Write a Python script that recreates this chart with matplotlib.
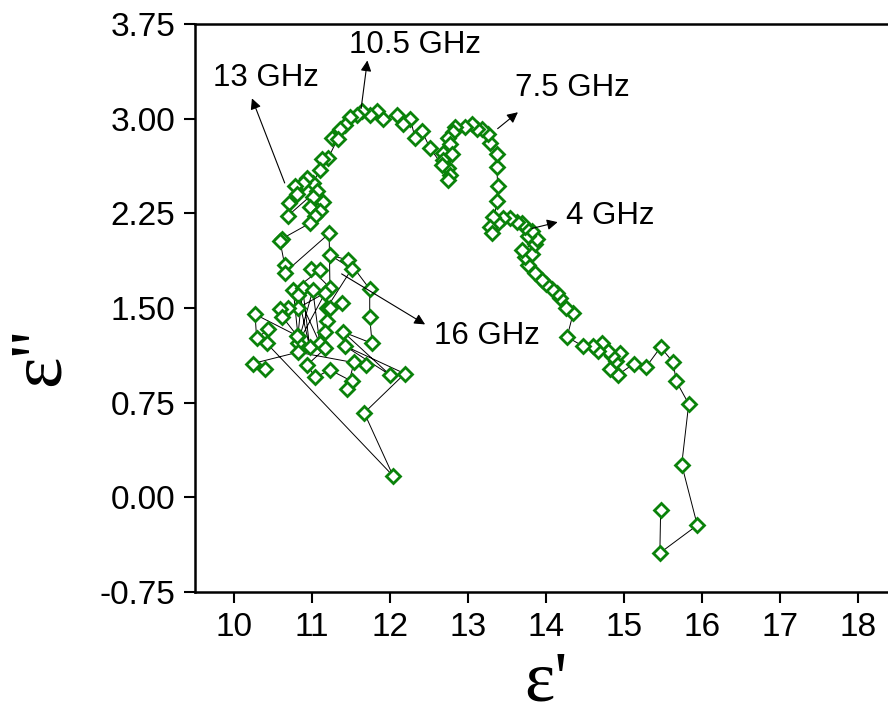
import matplotlib.pyplot as plt

plt.rcParams['font.family'] = ['Liberation Sans', 'DejaVu Sans']

# ---- data: Cole-Cole plot (eps' vs eps'') ----
eps_real = [
    15.47, 15.46, 15.94, 15.74, 15.83, 15.67, 15.63, 15.47, 15.28, 15.13,
    14.92, 14.82, 14.90, 14.95, 14.85, 14.80, 14.72, 14.67, 14.60, 14.47,
    14.27, 14.35, 14.26, 14.18, 14.14, 14.08, 14.00, 13.95, 13.86, 13.77,
    13.73, 13.82, 13.69, 13.86, 13.88, 13.77, 13.82, 13.73, 13.69, 13.63,
    13.54, 13.45, 13.38, 13.32, 13.28, 13.31, 13.37, 13.38, 13.37, 13.37,
    13.28, 13.26, 13.18, 13.12, 13.05, 12.96, 12.83, 12.81, 12.74, 12.77,
    12.68, 12.79, 12.68, 12.74, 12.77, 12.74, 12.67, 12.51, 12.41, 12.32,
    12.26, 12.17, 12.09, 11.91, 11.83, 11.74, 11.64, 11.58, 11.49, 11.42,
    11.36, 11.26, 11.33, 11.21, 11.13, 11.10, 11.01, 10.94, 10.88, 10.78,
    10.81, 10.71, 10.69, 11.06, 11.01, 11.14, 10.97, 11.10, 11.04, 10.97,
    10.62, 10.59, 10.65, 10.65,
    11.22, 11.23, 10.99, 11.10, 10.76, 10.82, 10.88, 10.97, 10.82, 11.10,
    11.01, 10.82, 11.17, 10.82, 10.69, 10.59, 10.62, 10.81,
    10.27, 10.29, 10.44, 10.42, 12.04, 11.67, 12.19, 11.42, 12.00, 11.40,
    11.77, 11.74, 11.74, 11.46, 11.23, 11.51, 11.19, 11.23, 11.38, 11.19,
    11.17, 11.17, 10.94, 11.04, 11.23, 11.51, 11.45, 11.54, 11.69, 10.82,
    10.24, 10.40,
]
eps_imag = [
    -0.10, -0.44, -0.22, 0.26, 0.74, 0.92, 1.07, 1.19, 1.03, 1.06,
    0.97, 1.02, 1.08, 1.14, 1.12, 1.16, 1.22, 1.16, 1.20, 1.20,
    1.27, 1.46, 1.50, 1.58, 1.62, 1.65, 1.69, 1.72, 1.78, 1.84,
    1.90, 1.93, 1.96, 2.01, 2.05, 2.07, 2.11, 2.14, 2.17, 2.18,
    2.21, 2.21, 2.17, 2.22, 2.14, 2.09, 2.35, 2.47, 2.62, 2.72,
    2.81, 2.88, 2.92, 2.92, 2.96, 2.93, 2.93, 2.89, 2.85, 2.80,
    2.73, 2.72, 2.67, 2.61, 2.55, 2.51, 2.63, 2.77, 2.90, 2.85,
    3.00, 2.96, 3.03, 3.00, 3.06, 3.03, 3.06, 3.03, 3.01, 2.95,
    2.92, 2.85, 2.84, 2.69, 2.68, 2.59, 2.49, 2.53, 2.49, 2.47,
    2.40, 2.33, 2.23, 2.43, 2.38, 2.34, 2.30, 2.27, 2.23, 2.17,
    2.05, 2.03, 1.84, 1.78,
    2.09, 1.66, 1.81, 1.80, 1.64, 1.28, 1.66, 1.19, 1.60, 1.22,
    1.64, 1.22, 1.62, 1.50, 1.50, 1.49, 1.43, 1.28,
    1.45, 1.26, 1.33, 1.22, 0.17, 0.67, 0.98, 1.20, 0.97, 1.31,
    1.22, 1.43, 1.65, 1.88, 1.92, 1.81, 1.50, 1.50, 1.54, 1.40,
    1.31, 1.18, 1.05, 0.95, 1.01, 0.92, 0.86, 1.07, 1.05, 1.15,
    1.06, 1.02,
]

# frequency labels: (text, arrow tail on curve, arrow head, text position)
freq_labels = ['4 GHz', '7.5 GHz', '10.5 GHz', '13 GHz', '16 GHz']
arrow_tail = [(13.82, 2.13), (13.38, 2.92), (11.63, 3.08), (10.65, 2.49), (11.38, 1.77)]
arrow_head = [(14.15, 2.18), (13.64, 3.05), (11.71, 3.46), (10.23, 3.16), (12.45, 1.37)]
label_pos = [(14.26, 2.23), (13.60, 3.24), (11.47, 3.58), (9.73, 3.32), (12.56, 1.28)]

fig = plt.figure(figsize=(8.88, 7.23), dpi=100)
# axes runs slightly past the right edge, like the original crop
ax = fig.add_axes([0.2196, 0.181, 0.7905, 0.786])

ax.plot(eps_real, eps_imag, color='black', lw=0.7, zorder=2)
ax.plot(eps_real, eps_imag, ls='none', marker='D', ms=6.8, mew=2.0,
        mec='#0a820a', mfc='white', zorder=3)

for txt, t, h, p in zip(freq_labels, arrow_tail, arrow_head, label_pos):
    ax.annotate('', xy=h, xytext=t,
                arrowprops=dict(arrowstyle='-|>', color='black', lw=0.8,
                                mutation_scale=16, shrinkA=0, shrinkB=0))
    ax.text(p[0], p[1], txt, fontsize=22.5, ha='left', va='center')

ax.set_xlim(9.5, 18.5)
ax.set_ylim(-0.75, 3.75)
ax.set_xticks(range(10, 19))
ax.set_yticks([-0.75, 0.0, 0.75, 1.5, 2.25, 3.0, 3.75])
ax.set_yticklabels(['-0.75', '0.00', '0.75', '1.50', '2.25', '3.00', '3.75'])
ax.tick_params(direction='out', length=8, width=1.5, labelsize=24, pad=6)

for s in ax.spines.values():
    s.set_linewidth(1.8)

ax.set_xlabel("ε'", fontsize=52, family=['Liberation Serif', 'DejaVu Serif'], labelpad=6)
ax.set_ylabel("ε''", fontsize=54, family=['Liberation Serif', 'DejaVu Serif'])
ax.yaxis.set_label_coords(-0.171, 0.415)

fig.savefig('out.png', dpi=100)
